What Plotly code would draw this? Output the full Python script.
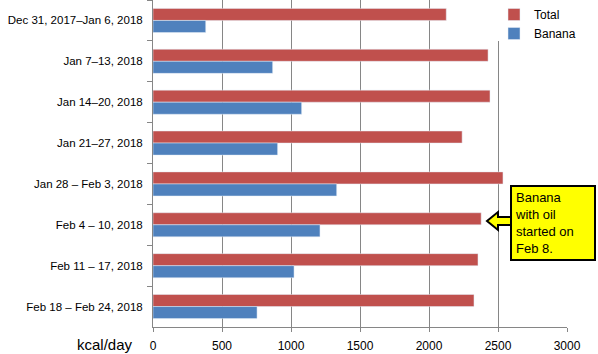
import plotly.graph_objects as go

weeks = ["Dec 31, 2017–Jan 6, 2018", "Jan 7–13, 2018", "Jan 14–20, 2018", "Jan 21–27, 2018",
         "Jan 28 – Feb 3, 2018", "Feb 4 – 10, 2018", "Feb 11 – 17, 2018", "Feb 18 – Feb 24, 2018"]
total = [2125, 2428, 2442, 2240, 2536, 2378, 2355, 2326]
banana = [382, 867, 1077, 903, 1331, 1210, 1022, 754]

W, H = 598, 354
L, R, T, B = 153, 567, 0, 327

def px(x):
    return (x - L) / (R - L)

def py(y):
    return 1 - (y - T) / (B - T)

font = "Liberation Sans, Arial, sans-serif"
fig = go.Figure()
fig.add_trace(go.Bar(y=weeks, x=total, name="Total", orientation="h", marker_color="#C0504D"))
fig.add_trace(go.Bar(y=weeks, x=banana, name="Banana", orientation="h", marker_color="#4F81BD"))

arrow = [(487, 221), (498, 212), (498, 217), (511, 217), (511, 225), (498, 225), (498, 230)]
path = "M " + " L ".join(f"{px(a)},{py(b)}" for a, b in arrow) + " Z"

fig.update_layout(
    width=W, height=H,
    margin=dict(l=L, r=W - R, t=T, b=H - B),
    paper_bgcolor="white", plot_bgcolor="white",
    barmode="group", bargap=0.41, bargroupgap=0,
    font=dict(family=font, size=12, color="black"),
    xaxis=dict(range=[0, 3000], dtick=500, showgrid=True, gridcolor="#868686", gridwidth=1,
               showline=True, linecolor="#868686", ticks="outside", ticklen=4, tickcolor="#868686",
               zeroline=False, tickfont=dict(size=12), ticklabelstandoff=4),
    yaxis=dict(autorange="reversed", showline=True, linecolor="#868686", ticks="outside",
               tickson="boundaries", ticklen=5, tickcolor="#868686", showgrid=False,
               tickfont=dict(size=11.5), ticklabelstandoff=7),
    legend=dict(x=px(494), y=1, xanchor="left", yanchor="top", bgcolor="rgba(0,0,0,0)",
                font=dict(size=12), traceorder="normal", itemwidth=30),
    shapes=[
        dict(type="rect", xref="paper", yref="paper", x0=px(494), x1=px(598), y0=py(41), y1=py(-2),
             fillcolor="white", line=dict(width=0), layer="above"),
        dict(type="path", xref="paper", yref="paper", path=path, fillcolor="#FFFF00",
             line=dict(color="black", width=2), layer="above"),
    ],
    annotations=[
        dict(text="Banana<br>with oil<br>started on<br>Feb 8.", xref="paper", yref="paper",
             x=px(510), y=py(185), xanchor="left", yanchor="top", showarrow=False, align="left",
             bgcolor="#FFFF00", bordercolor="black", borderwidth=2, borderpad=3,
             width=76, height=66, valign="middle", font=dict(size=13, color="black")),
        dict(text="kcal/day", xref="paper", yref="paper", x=px(135), y=py(345), xanchor="right",
             yanchor="middle", showarrow=False, font=dict(size=15, color="black")),
    ],
)
fig.write_html("out.html")
